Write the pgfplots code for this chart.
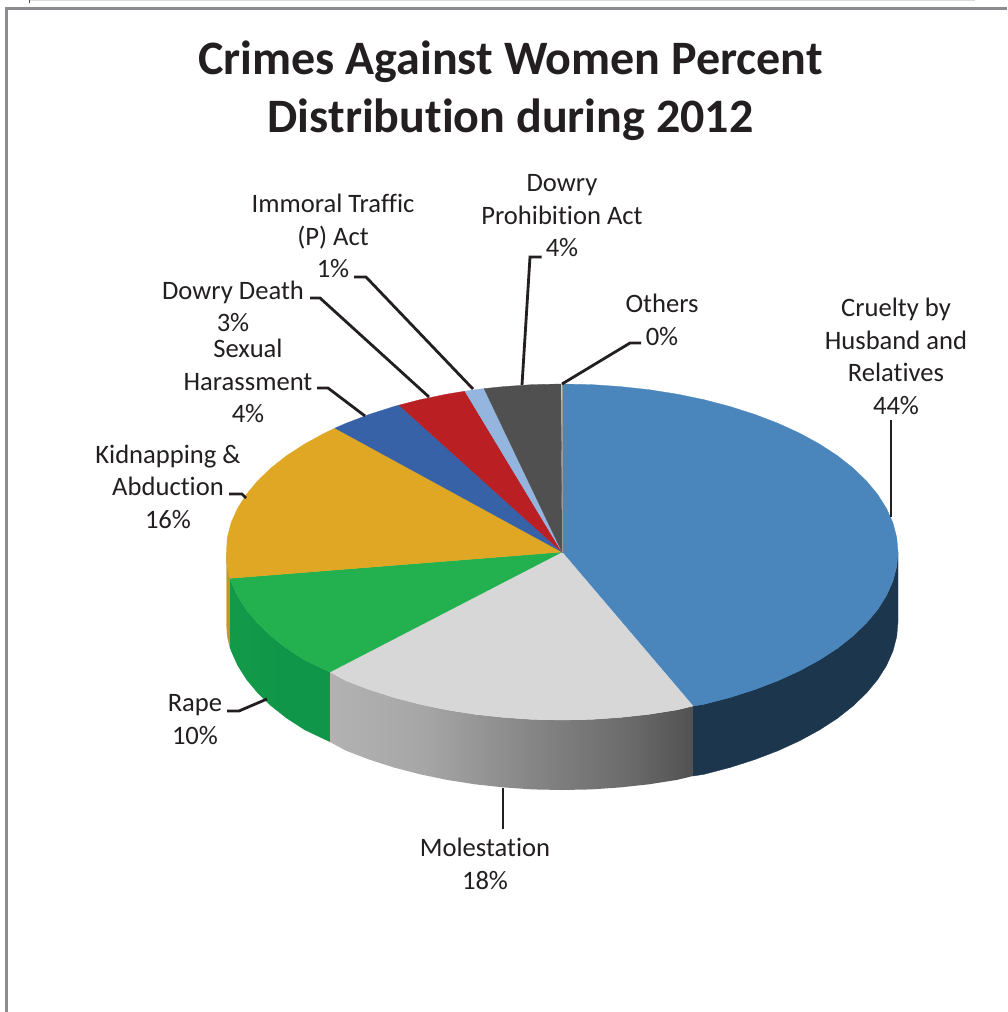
\documentclass[border=0pt]{standalone}
\usepackage{pgfplots}
\pgfplotsset{compat=1.18}
\usepackage{fontspec}
\setmainfont{Carlito}[Ligatures={NoCommon}]
\definecolor{ink}{HTML}{231F20}
\definecolor{frameline}{HTML}{8C8C90}
\definecolor{cruelty}{HTML}{4A86BC}
\definecolor{crueltyside}{HTML}{1B364D}
\definecolor{molest}{HTML}{D7D7D7}
\definecolor{rape}{HTML}{23B14F}
\definecolor{rapeside}{HTML}{109648}
\definecolor{kidnap}{HTML}{DFA723}
\definecolor{kidnapside}{HTML}{C4962B}
\definecolor{harass}{HTML}{3762A8}
\definecolor{ddeath}{HTML}{BA1F24}
\definecolor{traffic}{HTML}{93B5DE}
\definecolor{prohib}{HTML}{505050}
\definecolor{others}{HTML}{9A9A9A}
% Side wall of the Molestation slice, light on the left, dark on the right
\pgfdeclarehorizontalshading{molestside}{100bp}{
  color(0bp)=(black!30!white);
  color(25bp)=(black!30!white);
  color(38bp)=(black!35!white);
  color(52bp)=(black!47!white);
  color(66bp)=(black!58!white);
  color(75bp)=(black!68!white);
  color(100bp)=(black!68!white)}
\pgfdeclarehorizontalshading{rapeshade}{100bp}{
  color(0bp)=(rapeside!85!rape);
  color(25bp)=(rapeside!85!rape);
  color(50bp)=(rapeside);
  color(75bp)=(rapeside);
  color(100bp)=(rapeside)}
\pgfplotsset{
  slice/.style={fill=#1,draw=#1,line width=0.3pt,mark=none},
  leader/.style={draw=ink,line width=2.8pt,mark=none,line join=miter}
}
\tikzset{lab/.style={font=\fontsize{26.6}{32.5}\selectfont,text=ink,align=center,inner sep=0pt}}
\begin{document}
\begin{tikzpicture}
\begin{axis}[
  width=1007pt,height=1012pt,scale only axis,
  xmin=0,xmax=1007,ymin=0,ymax=1012,y dir=reverse,
  axis lines=none,clip=true]

% page background
\addplot[fill=white,draw=none,mark=none] coordinates {(0,0)(1007,0)(1007,1012)(0,1012)} --cycle;

% frame fragments
\addplot[draw=black!15,line width=1.5pt,mark=none] coordinates {(29,0.5)(975,0.5)};
\addplot[draw=black!70,line width=1pt,mark=none] coordinates {(29.5,0)(29.5,3)};
\addplot[draw=frameline,line width=3pt,mark=none] coordinates {(1007,8)(6.5,8)(6.5,1012)};

% side walls
\addplot[slice=crueltyside] coordinates {
 (898,552)(896.7,566.6)(892.9,581.2)(886.5,595.5)(877.7,609.5)(866.5,623)(853,636)(837.3,648.4)
 (819.4,660)(799.6,670.8)(778,680.7)(754.7,689.6)(730,697.5)(704,704.3)(693,706)
 (693,776)(704,774.3)(730,767.5)(754.7,759.6)(778,750.7)(799.6,740.8)(819.4,730)(837.3,718.4)
 (853,706)(866.5,693)(877.7,679.5)(886.5,665.5)(892.9,651.2)(896.7,636.6)(898,622)} --cycle;
\addplot[slice=kidnapside] coordinates {
 (230.1,578.3)(227.3,566.6)(226.5,552)(226.5,622)(227.3,636.6)(230.1,648.3)} --cycle;
\addplot[shade,shading=rapeshade,draw=none,mark=none] coordinates {
 (330,672)(304.6,660)(286.7,648.4)(271,636)(257.5,623)(246.3,609.5)(237.5,595.5)(231.1,581.2)(230.1,578.3)
 (230.1,648.3)(231.1,651.2)(237.5,665.5)(246.3,679.5)(257.5,693)(271,706)(286.7,718.4)(304.6,730)(330,742)} --cycle;
\addplot[shade,shading=molestside,draw=none,mark=none] coordinates {
 (693,706)(676.9,709.9)(649,714.3)(620.3,717.4)(591.3,719.4)(562,720)(532.7,719.4)(503.7,717.4)(475,714.3)(447.1,709.9)
 (420,704.3)(394,697.5)(369.3,689.6)(346,680.7)(330,672)
 (330,742)(346,750.7)(369.3,759.6)(394,767.5)(420,774.3)(447.1,779.9)(475,784.3)(503.7,787.4)(532.7,789.4)(562,790)
 (591.3,789.4)(620.3,787.4)(649,784.3)(676.9,779.9)(693,776)} --cycle;

% top faces, one slice per category
\addplot[slice=cruelty] coordinates {
 (562,552)(562,384)(591.3,384.6)(620.3,386.6)(649,389.7)(676.9,394.1)(704,399.7)(730,406.5)(754.7,414.4)(778,423.3)
 (799.6,433.2)(819.4,444)(837.3,455.6)(853,468)(866.5,481)(877.7,494.5)(886.5,508.5)(892.9,522.8)(896.7,537.4)(898,552)
 (896.7,566.6)(892.9,581.2)(886.5,595.5)(877.7,609.5)(866.5,623)(853,636)(837.3,648.4)(819.4,660)(799.6,670.8)(778,680.7)
 (754.7,689.6)(730,697.5)(704,704.3)(693,706)} --cycle;
\addplot[slice=molest] coordinates {
 (562,552)(693,706)(676.9,709.9)(649,714.3)(620.3,717.4)(591.3,719.4)(562,720)(532.7,719.4)(503.7,717.4)(475,714.3)
 (447.1,709.9)(420,704.3)(394,697.5)(369.3,689.6)(346,680.7)(330,672)} --cycle;
\addplot[slice=rape] coordinates {
 (562,552)(330,672)(304.6,660)(286.7,648.4)(271,636)(257.5,623)(246.3,609.5)(237.5,595.5)(231.1,581.2)(230.1,578.3)} --cycle;
\addplot[slice=kidnap] coordinates {
 (562,552)(230.1,578.3)(227.3,566.6)(226.5,552)(227.3,537.4)(231.1,522.8)(237.5,508.5)(246.3,494.5)(257.5,481)(271,468)
 (286.7,455.6)(304.6,444)(324.4,433.2)(335,428.1)} --cycle;
\addplot[slice=harass] coordinates {
 (562,552)(335,428.1)(346,423.3)(369.3,414.4)(394,406.5)(399.1,405.1)} --cycle;
\addplot[slice=ddeath] coordinates {
 (562,552)(399.1,405.1)(420,399.7)(447.1,394.1)(464.9,391.2)} --cycle;
\addplot[slice=traffic] coordinates {
 (562,552)(464.9,391.2)(475,389.7)(484.1,388.6)} --cycle;
\addplot[slice=prohib] coordinates {
 (562,552)(484.1,388.6)(503.7,386.6)(532.7,384.6)(561,384)} --cycle;
\addplot[draw=others,line width=1pt,mark=none] coordinates {(562,552)(562,384)};

% leader lines
\addplot[leader] coordinates {(891,517)(891,420)};
\addplot[leader] coordinates {(562,384)(630,343)(641,343)};
\addplot[leader] coordinates {(522,385)(530,257)(541.5,257)};
\addplot[leader] coordinates {(473,389)(366,277)(354,277)};
\addplot[leader] coordinates {(429,397)(320,298)(310,298)};
\addplot[leader] coordinates {(365,416)(328,388)(317,388)};
\addplot[leader] coordinates {(246,498)(242,494)(229,494)};
\addplot[leader] coordinates {(267,699)(239,711)(227,711)};
\addplot[leader] coordinates {(503,788)(503,829)};

% title and data labels
\node[font=\fontsize{48}{58}\selectfont\bfseries,text=ink,align=center,inner sep=0pt] at (axis cs:510.5,91) {Crimes Against Women Percent\\Distribution during 2012};
\node[lab] at (axis cs:896,356.5) {Cruelty by\\Husband and\\Relatives\\44\%};
\node[lab] at (axis cs:662,320) {Others\\0\%};
\node[lab] at (axis cs:562,216) {Dowry\\Prohibition Act\\4\%};
\node[lab] at (axis cs:333,236) {Immoral Traffic\\(P) Act\\1\%};
\node[lab] at (axis cs:233,306.5) {Dowry Death\\3\%};
\node[lab] at (axis cs:248,381) {Sexual\\Harassment\\4\%};
\node[lab] at (axis cs:168,486.5) {Kidnapping \&\\Abduction\\16\%};
\node[lab] at (axis cs:195,719.5) {Rape\\10\%};
\node[lab] at (axis cs:485,864) {Molestation\\18\%};
\end{axis}
\end{tikzpicture}
\end{document}
